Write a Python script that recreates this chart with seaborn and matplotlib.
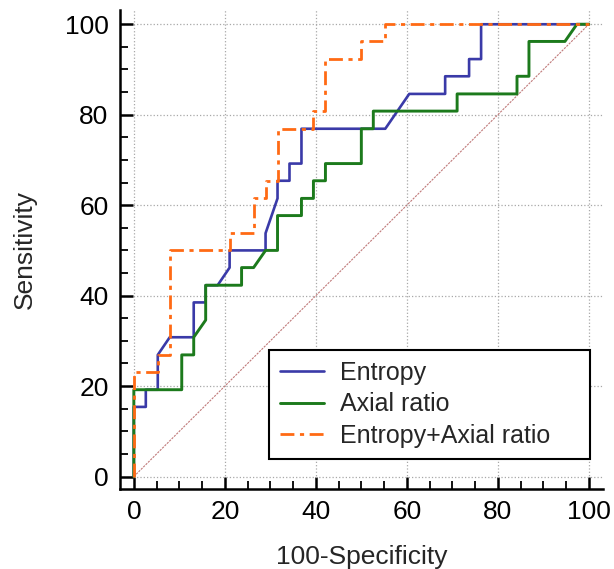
import matplotlib
matplotlib.use("Agg")
import matplotlib.pyplot as plt
import seaborn as sns
from matplotlib.ticker import MultipleLocator

# ---------------------------------------------------------
# ROC curve vertices (100-Specificity, Sensitivity)
# ---------------------------------------------------------
entropy_x = [0, 0, 2.63, 2.63, 5.26, 5.26, 7.89, 13.16, 13.16, 15.79, 15.79, 18.42,
             21.05, 21.05, 28.95, 28.95, 31.58, 31.58, 34.21, 34.21, 36.84, 36.84,
             55.26, 60.53, 68.42, 68.42, 73.68, 73.68, 76.32, 76.32, 100]
entropy_y = [0, 15.4, 15.4, 19.2, 19.2, 26.9, 30.8, 30.8, 38.5, 38.5, 42.3, 42.3,
             46.2, 50.0, 50.0, 53.8, 61.5, 65.4, 65.4, 69.2, 69.2, 76.9,
             76.9, 84.6, 84.6, 88.5, 88.5, 92.3, 92.3, 100, 100]

axial_x = [0, 0, 10.53, 10.53, 13.16, 13.16, 15.79, 15.79, 23.68, 23.68, 26.32, 28.95,
           31.58, 31.58, 36.84, 36.84, 39.47, 39.47, 42.11, 42.11, 50.0, 50.0,
           52.63, 52.63, 71.05, 71.05, 84.21, 84.21, 86.84, 86.84, 94.74, 97.37, 100]
axial_y = [0, 19.2, 19.2, 26.9, 26.9, 30.8, 34.6, 42.3, 42.3, 46.2, 46.2, 50.0,
           50.0, 57.7, 57.7, 61.5, 61.5, 65.4, 65.4, 69.2, 69.2, 76.9,
           76.9, 80.8, 80.8, 84.6, 84.6, 88.5, 88.5, 96.2, 96.2, 100, 100]

combo_x = [0, 0, 5.26, 5.26, 7.89, 7.89, 21.05, 21.05, 26.32, 26.32, 28.95, 28.95,
           31.58, 31.58, 39.47, 39.47, 42.11, 42.11, 50.0, 50.0, 55.26, 55.26, 100]
combo_y = [0, 23.1, 23.1, 26.9, 26.9, 50.0, 50.0, 53.8, 53.8, 61.5, 61.5, 65.4,
           65.4, 76.9, 76.9, 80.8, 80.8, 92.3, 92.3, 96.2, 96.2, 100, 100]

ref_x = [0, 100]
ref_y = [0, 100]

# ---------------------------------------------------------
# style
# ---------------------------------------------------------
sns.set_style("ticks")
plt.rcParams['font.family'] = ['Liberation Sans', 'DejaVu Sans']

fig = plt.figure(figsize=(6.14, 5.69), dpi=100)
ax = fig.add_axes([0.195, 0.141, 0.787, 0.841])

ax.grid(True, which='major', linestyle=':', color='#a8a8a8', linewidth=0.9)
ax.set_axisbelow(True)

sns.lineplot(x=ref_x, y=ref_y, ax=ax, color='#c07a7a', linewidth=0.8,
             linestyle=(0, (2, 1)), estimator=None, sort=False)
sns.lineplot(x=entropy_x, y=entropy_y, ax=ax, color='#3a3aa8', linewidth=1.9,
             estimator=None, sort=False, label='Entropy')
sns.lineplot(x=axial_x, y=axial_y, ax=ax, color='#1c7a1c', linewidth=2.1,
             estimator=None, sort=False, label='Axial ratio')
sns.lineplot(x=combo_x, y=combo_y, ax=ax, color='#ff6a14', linewidth=2.0,
             linestyle=(0, (5, 2, 1.5, 2)), estimator=None, sort=False,
             label='Entropy+Axial ratio')

ax.set_xlim(-3.1, 103.1)
ax.set_ylim(-2.7, 103.1)
ax.xaxis.set_minor_locator(MultipleLocator(5))
ax.yaxis.set_minor_locator(MultipleLocator(5))
ax.set_xticks([0, 20, 40, 60, 80, 100])
ax.set_yticks([0, 20, 40, 60, 80, 100])

sns.despine(ax=ax)
for s in ['left', 'bottom']:
    ax.spines[s].set_linewidth(1.8)
    ax.spines[s].set_color('black')

ax.tick_params(which='major', direction='in', length=9, width=1.8,
               labelsize=19, pad=8, colors='black')
ax.tick_params(which='minor', direction='in', length=5.5, width=1.3, colors='black')

ax.set_xlabel('100-Specificity', fontsize=19, labelpad=15)
ax.set_ylabel('Sensitivity', fontsize=19, labelpad=20)

leg = ax.legend(loc='lower left', bbox_to_anchor=(0.308, 0.062, 0.665, 0),
                mode='expand', borderaxespad=0,
                fontsize=18, frameon=True, fancybox=False, framealpha=1,
                edgecolor='black', handlelength=1.75, handletextpad=0.65,
                labelspacing=0.3, borderpad=0.45)
leg.get_frame().set_linewidth(1.5)

fig.savefig('out.png', dpi=100)
